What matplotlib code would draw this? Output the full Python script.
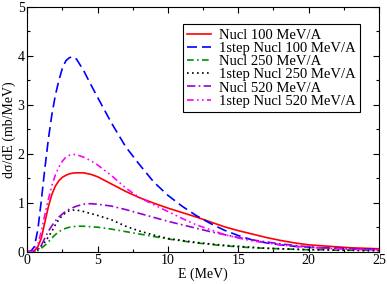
import matplotlib
matplotlib.use("Agg")
import matplotlib.pyplot as plt
from matplotlib.ticker import MultipleLocator

# energy grid (MeV)
energy = [0, 0.25, 0.5, 0.75, 1, 1.25, 1.5, 1.75, 2, 2.25, 2.5, 2.75, 3, 3.25, 3.5, 4, 4.5, 5,
          6, 7, 8, 9, 10, 11, 12, 13, 14, 15, 16, 17, 18, 19, 20, 21, 22, 23, 24, 25]

# d sigma / dE (mb/MeV)
nucl_100 = [0, 0, 0.02, 0.1, 0.28, 0.6, 0.92, 1.17, 1.34, 1.45, 1.52, 1.56, 1.59, 1.605, 1.61, 1.61,
            1.58, 1.53, 1.38, 1.23, 1.1, 0.99, 0.89, 0.8, 0.71, 0.61, 0.51, 0.43, 0.36, 0.29, 0.23,
            0.18, 0.14, 0.12, 0.1, 0.08, 0.07, 0.06]
step_100 = [0, 0.01, 0.1, 0.45, 1.05, 1.7, 2.3, 2.8, 3.2, 3.5, 3.75, 3.9, 3.96, 3.98, 3.93, 3.7,
            3.42, 3.15, 2.62, 2.14, 1.77, 1.42, 1.15, 0.93, 0.74, 0.58, 0.44, 0.33, 0.24, 0.18, 0.14,
            0.11, 0.09, 0.08, 0.07, 0.06, 0.05, 0.05]
nucl_250 = [0, 0, 0, 0.02, 0.07, 0.13, 0.2, 0.28, 0.35, 0.41, 0.45, 0.48, 0.5, 0.51, 0.52, 0.52,
            0.51, 0.5, 0.46, 0.41, 0.36, 0.31, 0.26, 0.22, 0.18, 0.15, 0.12, 0.1, 0.08, 0.07, 0.06,
            0.05, 0.04, 0.04, 0.03, 0.03, 0.03, 0.03]
step_250 = [0, 0, 0.01, 0.05, 0.12, 0.2, 0.3, 0.42, 0.55, 0.66, 0.74, 0.8, 0.84, 0.85, 0.85, 0.82,
            0.78, 0.74, 0.65, 0.52, 0.42, 0.34, 0.27, 0.23, 0.19, 0.16, 0.13, 0.11, 0.09, 0.07, 0.06,
            0.05, 0.04, 0.04, 0.03, 0.03, 0.02, 0.02]
nucl_520 = [0, 0, 0, 0.04, 0.13, 0.28, 0.42, 0.53, 0.63, 0.71, 0.77, 0.83, 0.87, 0.9, 0.93, 0.97,
            0.98, 0.97, 0.93, 0.86, 0.78, 0.7, 0.62, 0.55, 0.48, 0.41, 0.35, 0.29, 0.24, 0.2, 0.16,
            0.13, 0.1, 0.08, 0.07, 0.06, 0.05, 0.04]
step_520 = [0, 0, 0.02, 0.15, 0.42, 0.76, 1.07, 1.35, 1.57, 1.73, 1.85, 1.93, 1.97, 1.985, 1.98, 1.93,
            1.86, 1.77, 1.55, 1.3, 1.1, 0.96, 0.82, 0.68, 0.55, 0.45, 0.35, 0.28, 0.22, 0.18, 0.14,
            0.11, 0.09, 0.07, 0.06, 0.05, 0.04, 0.04]

labels = ["Nucl 100 MeV/A", "1step Nucl 100 MeV/A", "Nucl 250 MeV/A",
          "1step Nucl 250 MeV/A", "Nucl 520 MeV/A", "1step Nucl 520 MeV/A"]

plt.rcParams['font.family'] = ['Liberation Serif', 'DejaVu Serif']
plt.rcParams['font.size'] = 10

fig = plt.figure(figsize=(3.87, 2.84), dpi=100)
ax = fig.add_axes([0.0705, 0.1137, 0.9085, 0.8627])

ax.plot(energy, nucl_100, color='#ff0000', lw=1.2, linestyle='-', label=labels[0])
ax.plot(energy, step_100, color='#0000ff', lw=1.2, linestyle=(0, (6, 3)), label=labels[1])
ax.plot(energy, nucl_250, color='#009000', lw=1.2, linestyle=(0, (4, 2, 1, 2)), label=labels[2])
ax.plot(energy, step_250, color='#000000', lw=1.2, linestyle=(0, (1, 2)), label=labels[3])
ax.plot(energy, nucl_520, color='#9400d3', lw=1.2, linestyle=(0, (5, 2, 1, 2)), label=labels[4])
ax.plot(energy, step_520, color='#ff00ff', lw=1.2, linestyle=(0, (4, 2, 1, 2, 1, 2)), label=labels[5])

ax.set_xlim(0, 25)
ax.set_ylim(0, 5)
ax.xaxis.set_major_locator(MultipleLocator(5))
ax.xaxis.set_minor_locator(MultipleLocator(2.5))
ax.yaxis.set_major_locator(MultipleLocator(1))
ax.yaxis.set_minor_locator(MultipleLocator(0.5))
ax.tick_params(which='both', direction='in', top=True, right=True, width=0.8)
ax.tick_params(which='major', length=4, pad=2)
ax.tick_params(which='minor', length=2)
for s in ax.spines.values():
    s.set_linewidth(0.8)

ax.set_xlabel('E (MeV)', labelpad=0)
ax.set_ylabel('dσ/dE (mb/MeV)', labelpad=1)

leg = ax.legend(loc='upper right', bbox_to_anchor=(0.946, 0.929), borderaxespad=0,
                fancybox=False, edgecolor='black', framealpha=1, handlelength=1.6,
                handletextpad=0.55, labelspacing=0.0, borderpad=0.3, fontsize=10.5)
leg.get_frame().set_linewidth(0.8)

fig.savefig('out.png', dpi=100)
